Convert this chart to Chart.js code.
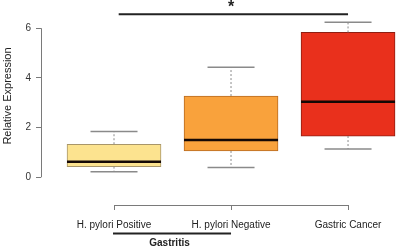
<!DOCTYPE html>
<html>
<head>
<meta charset="utf-8">
<script src="https://cdn.jsdelivr.net/npm/chart.js@4.4.1/dist/chart.umd.min.js"></script>
<style>
  html, body { margin: 0; padding: 0; background: #fff; }
  canvas { display: block; }
</style>
</head>
<body>
<canvas id="boxChart" width="398" height="250"></canvas>
<script>
// groups along the x axis
const groups = ['H. pylori Positive', 'H. pylori Negative', 'Gastric Cancer'];
const groupPos = [1, 2, 3];

// box plot stats
const whiskerLow = [0.22, 0.39, 1.14];
const q1 = [0.43, 1.06, 1.66];
const medians = [0.63, 1.50, 3.04];
const q3 = [1.33, 3.27, 5.83];
const whiskerHigh = [1.84, 4.43, 6.24];

const yTicks = [0, 2, 4, 6];
const yTitle = 'Relative Expression';
const bracketLabel = 'Gastritis';
const sigMark = '*';

const fills = ['#FCE38F', '#F9A23C', '#E9301C'];
const edges = ['#A8966A', '#B86B22', '#8E1E12'];
const axisGrey = '#7a7a7a';
const textColor = '#222';
const fontFam = "'Liberation Sans', Arial, sans-serif";
const boxWidth = 94;

Chart.defaults.font.family = fontFam;

// whiskers, medians and the R-style axis pieces
const boxExtras = {
  id: 'boxExtras',
  afterDatasetsDraw(chart) {
    const { ctx, scales: { x, y } } = chart;
    const half = boxWidth / 4;
    ctx.save();
    groupPos.forEach((g, i) => {
      const cx = x.getPixelForValue(g);
      // dashed whisker stems
      ctx.strokeStyle = '#8a8a8a';
      ctx.lineWidth = 1;
      ctx.setLineDash([2, 2]);
      ctx.beginPath();
      ctx.moveTo(cx, y.getPixelForValue(q3[i]));
      ctx.lineTo(cx, y.getPixelForValue(whiskerHigh[i]));
      ctx.moveTo(cx, y.getPixelForValue(q1[i]));
      ctx.lineTo(cx, y.getPixelForValue(whiskerLow[i]));
      ctx.stroke();
      ctx.setLineDash([]);
      // caps
      ctx.lineWidth = 1.5;
      ctx.beginPath();
      [whiskerHigh[i], whiskerLow[i]].forEach(v => {
        const py = y.getPixelForValue(v);
        ctx.moveTo(cx - half, py);
        ctx.lineTo(cx + half, py);
      });
      ctx.stroke();
      // median
      const my = y.getPixelForValue(medians[i]);
      ctx.strokeStyle = '#140805';
      ctx.lineWidth = 2.5;
      ctx.beginPath();
      ctx.moveTo(cx - boxWidth / 2, my);
      ctx.lineTo(cx + boxWidth / 2, my);
      ctx.stroke();
    });
    ctx.restore();
  },
  afterDraw(chart) {
    const { ctx, chartArea, scales: { x, y } } = chart;
    ctx.save();
    // y axis line spans only the ticks
    ctx.strokeStyle = axisGrey;
    ctx.lineWidth = 1;
    ctx.beginPath();
    ctx.moveTo(chartArea.left + 0.5, y.getPixelForValue(yTicks[0]));
    ctx.lineTo(chartArea.left + 0.5, y.getPixelForValue(yTicks[yTicks.length - 1]));
    // x axis line spans first..last group
    ctx.moveTo(x.getPixelForValue(groupPos[0]), chartArea.bottom + 0.5);
    ctx.lineTo(x.getPixelForValue(groupPos[groupPos.length - 1]), chartArea.bottom + 0.5);
    ctx.stroke();

    // y title
    ctx.fillStyle = textColor;
    ctx.font = '11px ' + fontFam;
    ctx.textAlign = 'center';
    ctx.textBaseline = 'middle';
    ctx.translate(7.5, 96);
    ctx.rotate(-Math.PI / 2);
    ctx.fillText(yTitle, 0, 0);
    ctx.setTransform(1, 0, 0, 1, 0, 0);

    // significance bar
    const sy = y.getPixelForValue(6.56);
    ctx.strokeStyle = '#222';
    ctx.lineWidth = 2;
    ctx.beginPath();
    ctx.moveTo(x.getPixelForValue(1.04), sy);
    ctx.lineTo(x.getPixelForValue(3), sy);
    ctx.stroke();
    ctx.font = 'bold 16px ' + fontFam;
    ctx.textBaseline = 'alphabetic';
    ctx.fillText(sigMark, x.getPixelForValue(2), sy - 2);

    // Gastritis bracket under the first two groups
    const by = chartArea.bottom + 28.5;
    ctx.beginPath();
    ctx.moveTo(x.getPixelForValue(1) - 1, by);
    ctx.lineTo(x.getPixelForValue(2), by);
    ctx.stroke();
    ctx.font = 'bold 10px ' + fontFam;
    ctx.textBaseline = 'middle';
    ctx.fillText(bracketLabel, (x.getPixelForValue(1) + x.getPixelForValue(2)) / 2 - 3, by + 10);
    ctx.restore();
  }
};

new Chart(document.getElementById('boxChart'), {
  type: 'bar',
  data: {
    datasets: [{
      data: groupPos.map((g, i) => ({ x: g, y: [q1[i], q3[i]] })),
      backgroundColor: fills,
      borderColor: edges,
      borderWidth: 1,
      borderSkipped: false,
      barThickness: boxWidth
    }]
  },
  options: {
    responsive: false,
    animation: false,
    layout: { padding: 0 },
    plugins: { legend: { display: false }, tooltip: { enabled: false } },
    scales: {
      x: {
        type: 'linear',
        offset: false,
        min: 0.376,
        max: 3.427,
        afterBuildTicks: s => { s.ticks = groupPos.map(v => ({ value: v })); },
        afterFit: s => { s.height = 45; s.paddingLeft = 0; s.paddingRight = 0; },
        ticks: {
          callback: (v) => groups[groupPos.indexOf(v)],
          font: { size: 10 },
          color: textColor,
          padding: 9,
          maxRotation: 0,
          autoSkip: false
        },
        grid: { offset: false, drawOnChartArea: false, tickLength: 5, color: axisGrey },
        border: { display: false }
      },
      y: {
        min: -1.115,
        max: 7.135,
        afterBuildTicks: s => { s.ticks = yTicks.map(v => ({ value: v })); },
        afterFit: s => { s.width = 41; s.paddingTop = 0; s.paddingBottom = 0; },
        ticks: { font: { size: 10 }, color: '#333', padding: 5 },
        grid: { drawOnChartArea: false, tickLength: 5, color: axisGrey },
        border: { display: false }
      }
    }
  },
  plugins: [boxExtras]
});
</script>
</body>
</html>
